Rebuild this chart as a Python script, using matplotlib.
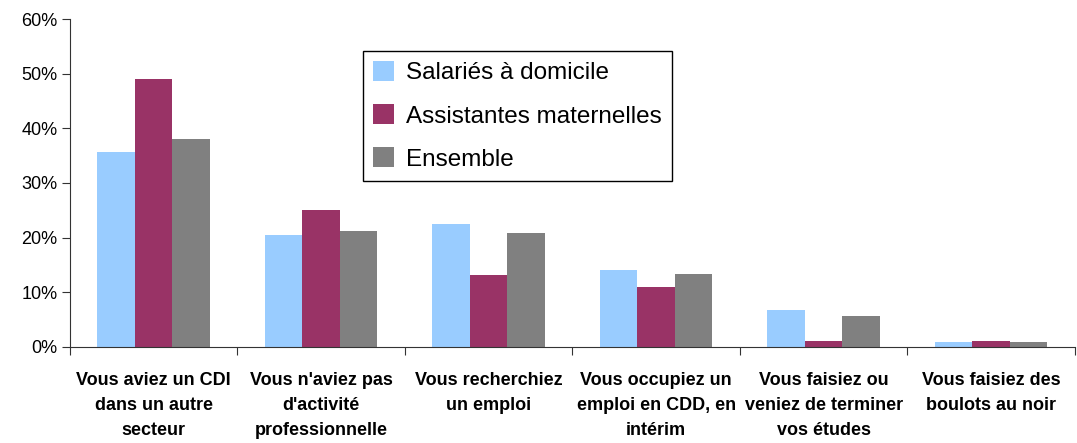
import matplotlib
matplotlib.use('Agg')
import matplotlib.pyplot as plt
import numpy as np
from matplotlib.ticker import PercentFormatter

categories = ["Vous aviez un CDI\ndans un autre\nsecteur",
              "Vous n'aviez pas\nd'activité\nprofessionnelle",
              "Vous recherchiez\nun emploi",
              "Vous occupiez un\nemploi en CDD, en\nintérim",
              "Vous faisiez ou\nveniez de terminer\nvos études",
              "Vous faisiez des\nboulots au noir"]
salaries = [35.7, 20.5, 22.5, 14.0, 6.8, 0.9]
assistantes = [49.0, 25.0, 13.2, 11.0, 1.1, 1.1]
ensemble = [38.0, 21.2, 20.8, 13.3, 5.7, 0.9]

fig = plt.figure(figsize=(10.77, 4.43), dpi=100)
ax = fig.add_axes([0.065, 0.217, 0.933, 0.74])

x = np.arange(len(categories))
w = 0.224
ax.bar(x - w, salaries, w, color='#99ccff', label='Salariés à domicile')
ax.bar(x, assistantes, w, color='#993366', label='Assistantes maternelles')
ax.bar(x + w, ensemble, w, color='#808080', label='Ensemble')

ax.set_xlim(-0.5, len(categories) - 0.5)
ax.set_ylim(0, 60)
ax.set_yticks(range(0, 61, 10))
ax.yaxis.set_major_formatter(PercentFormatter(decimals=0))
for lab in ax.get_yticklabels():
    lab.set_fontfamily('Liberation Sans')
    lab.set_fontsize(13)

ax.set_xticks(np.arange(len(categories) + 1) - 0.5)
ax.set_xticklabels([])
ax.tick_params(axis='x', length=6, color='#333333')
ax.tick_params(axis='y', length=6, color='#333333', pad=3)
for i, c in enumerate(categories):
    ax.text(i, -4.6, c, ha='center', va='top', fontsize=13, fontweight='bold',
            family='Liberation Sans', linespacing=1.6)

ax.spines['top'].set_visible(False)
ax.spines['right'].set_visible(False)
ax.spines['left'].set_color('#333333')
ax.spines['bottom'].set_color('#333333')

leg = ax.legend(loc='upper left', bbox_to_anchor=(0.2915, 0.902),
                prop={'family': 'Liberation Sans', 'size': 17.5},
                fancybox=False, framealpha=1, edgecolor='black',
                handlelength=0.85, handleheight=0.85, handletextpad=0.5,
                labelspacing=0.82, borderpad=0.42, borderaxespad=0)
leg.get_frame().set_linewidth(1.0)

plt.savefig('out.png', dpi=100)
